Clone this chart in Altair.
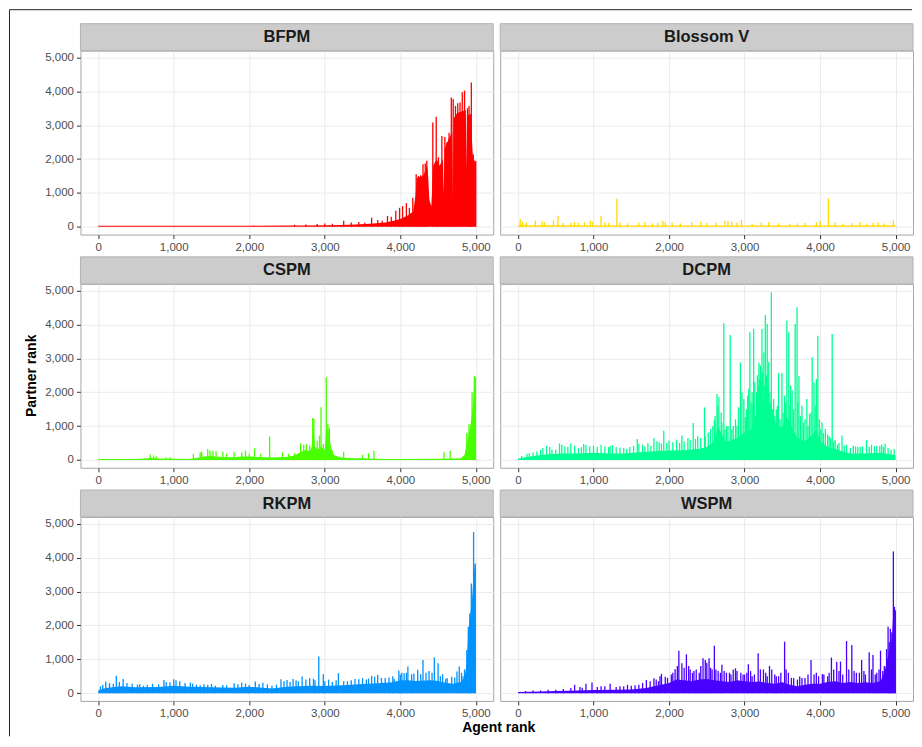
import altair as alt
import pandas as pd

# ---------------- data ----------------
panels = ["BFPM", "Blossom V", "CSPM", "DCPM", "RKPM", "WSPM"]
colors = ["#FF0000", "#FFDB00", "#49FF00", "#00FF92", "#0092FF", "#4900FF"]
tick_values = [0, 1000, 2000, 3000, 4000, 5000]

# BFPM
bfpm_body_x = [0, 500, 1000, 1500, 2000, 2500, 2700, 3000, 3200, 3400, 3600, 3800, 3900, 4000, 4100, 4170, 4200, 4220, 4300, 4360,
               4385, 4410, 4435, 4480, 4520, 4565, 4575, 4585, 4640, 4688, 4697, 4706, 4750, 4800, 4868, 4875, 4882, 4930, 4960, 4990, 5000]
bfpm_body_y = [30, 30, 30, 32, 34, 36, 40, 45, 55, 70, 90, 130, 170, 230, 330, 450, 900, 1450, 1500, 1800,
               800, 600, 1800, 2000, 1800, 2000, 950, 2300, 2600, 2800, 860, 3200, 3350, 3400, 3450, 1650, 3300, 3300, 2100, 1900, 1900]
bfpm_spike_x = [2600, 2750, 2900, 3000, 3100, 3250, 3350, 3450, 3530, 3620, 3700, 3760, 3830, 3880, 3940, 3990, 4030, 4080, 4120, 4165,
                4210, 4240, 4270, 4300, 4330, 4350, 4430, 4475, 4505, 4550, 4590, 4615, 4645, 4675, 4700, 4730, 4760, 4790, 4820, 4850,
                4890, 4910, 4925, 4940, 4965, 4998]
bfpm_spike_y = [60, 70, 80, 100, 90, 180, 130, 140, 120, 270, 200, 180, 320, 300, 470, 560, 610, 700, 560, 860,
                1550, 1500, 1520, 1850, 1870, 1950, 3080, 3250, 2050, 2680, 2650, 2490, 2780, 3820, 3770, 3570, 3650, 3670, 3970, 4020,
                3500, 3570, 3330, 4260, 2140, 1940]

# Blossom V
blossom_body_x = [0, 30, 100, 500, 1000, 1500, 2000, 2500, 3000, 3500, 4000, 4500, 5000]
blossom_body_y = [30, 60, 45, 45, 40, 40, 40, 40, 40, 35, 40, 40, 45]
blossom_spike_x = [30, 60, 110, 230, 320, 350, 470, 530, 600, 700, 750, 800, 880, 960, 990, 1100, 1150, 1200, 1310, 1350,
                   1450, 1600, 1680, 1780, 1850, 1920, 1950, 2040, 2150, 2300, 2420, 2500, 2620, 2740, 2780, 2830, 2900, 2960, 3100, 3220,
                   3320, 3450, 3600, 3700, 3800, 3950, 4000, 4110, 4200, 4300, 4420, 4530, 4620, 4700, 4770, 4850, 4970]
blossom_spike_y = [225, 150, 120, 180, 160, 130, 180, 325, 110, 110, 140, 120, 130, 180, 150, 325, 130, 110, 835, 130,
                   100, 120, 140, 100, 120, 180, 130, 130, 100, 140, 150, 110, 120, 180, 160, 150, 120, 200, 90, 130,
                   140, 100, 90, 100, 110, 130, 180, 845, 130, 100, 110, 140, 100, 110, 130, 100, 195]

# CSPM
cspm_body_x = [0, 500, 600, 700, 800, 1000, 1200, 1300, 1400, 1500, 1600, 1700, 1800, 1900, 2000, 2100, 2200, 2300, 2400, 2500,
               2600, 2650, 2700, 2750, 2800, 2830, 2850, 2870, 2900, 2950, 3000, 3020, 3050, 3080, 3120, 3200, 3300, 3400, 3500, 3600,
               3700, 3800, 4000, 4500, 4700, 4800, 4850, 4880, 4910, 4940, 4960, 4980, 5000]
cspm_body_y = [30, 30, 45, 60, 45, 35, 30, 60, 100, 120, 90, 80, 80, 100, 100, 90, 80, 70, 80, 90,
               130, 200, 250, 300, 250, 400, 1000, 400, 300, 400, 300, 900, 900, 400, 150, 80, 60, 50, 50, 40,
               32, 30, 30, 32, 40, 50, 150, 500, 800, 1200, 1600, 2300, 2300]
cspm_spike_x = [690, 735, 770, 900, 955, 1260, 1350, 1370, 1450, 1480, 1520, 1560, 1650, 1700, 1800, 1900, 1950, 2000, 2070, 2150,
                2270, 2440, 2520, 2600, 2680, 2720, 2760, 2800, 2840, 2855, 2900, 2930, 2950, 2980, 3020, 3040, 3060, 3100, 3250, 3500,
                3580, 3650, 4580, 4660, 4880, 4910, 4950, 4980, 4995]
cspm_spike_y = [160, 130, 100, 70, 80, 180, 225, 245, 325, 275, 275, 255, 245, 180, 225, 225, 275, 180, 345, 180,
                690, 225, 180, 200, 490, 450, 470, 425, 1240, 1210, 570, 720, 1555, 470, 2440, 1060, 960, 275, 245, 150,
                200, 275, 225, 275, 800, 1060, 2000, 2490, 2440]

# DCPM
dcpm_body_x = [0, 100, 200, 400, 600, 800, 1000, 1200, 1400, 1600, 1800, 2000, 2200, 2400, 2500, 2600, 2650, 2700, 2750, 2800,
               2900, 3000, 3100, 3150, 3200, 3250, 3300, 3350, 3400, 3500, 3550, 3600, 3650, 3700, 3800, 3900, 3950, 4000, 4100, 4200,
               4300, 4400, 4600, 4800, 5000]
dcpm_body_y = [40, 80, 120, 170, 190, 190, 210, 190, 190, 230, 260, 280, 290, 330, 380, 550, 1000, 750, 550, 550,
               650, 800, 900, 1300, 1600, 1800, 1700, 1500, 1100, 950, 1300, 1100, 850, 650, 550, 750, 900, 550, 380, 330,
               240, 190, 190, 210, 140]
dcpm_spike_x = [150, 250, 380, 450, 550, 620, 700, 800, 870, 950, 1000, 1100, 1150, 1220, 1300, 1400, 1480, 1580, 1650, 1720,
                1800, 1870, 1930, 2000, 2100, 2170, 2250, 2320, 2380, 2470, 2550, 2600, 2635, 2660, 2690, 2725, 2760, 2810, 2850, 2880,
                2920, 2945, 2965, 3010, 3040, 3070, 3100, 3120, 3145, 3170, 3190, 3210, 3230, 3255, 3275, 3300, 3320, 3355, 3385, 3420,
                3450, 3495, 3530, 3560, 3585, 3610, 3630, 3670, 3695, 3720, 3760, 3800, 3825, 3860, 3895, 3920, 3950, 3970, 4025, 4070,
                4120, 4160, 4200, 4250, 4290, 4350, 4440, 4500, 4560, 4615, 4680, 4750, 4815, 4860, 4900, 4980]
dcpm_spike_y = [200, 250, 420, 300, 490, 400, 490, 350, 470, 400, 420, 450, 400, 410, 380, 350, 380, 620, 450, 500,
                650, 520, 865, 575, 600, 720, 650, 1090, 700, 1555, 915, 1180, 1950, 1850, 1400, 4035, 1000, 3690, 1000, 1200,
                1555, 2880, 2000, 1260, 1900, 3770, 2000, 3870, 1300, 2500, 2880, 2790, 3870, 3180, 4280, 4015, 2900, 4950, 1800, 1500,
                2570, 2570, 1900, 4115, 3770, 2200, 2050, 4015, 4510, 2480, 1600, 1200, 1800, 1360, 3030, 2290, 2390, 3670, 1110, 915,
                700, 3720, 600, 500, 720, 450, 420, 380, 400, 590, 450, 420, 460, 480, 350, 325]
dcpm_minor_x = [50, 120, 200, 300, 330, 420, 500, 580, 660, 750, 840, 900, 1050, 1200, 1250, 1350, 1440, 1530, 1600, 1680,
                1760, 1840, 1900, 1970, 2050, 2140, 2200, 2280, 2350, 2420, 2480, 2520, 2580, 2610, 2645, 2700, 2740, 2780, 2830, 2900,
                2990, 3025, 3055, 3085, 3110, 3135, 3160, 3180, 3200, 3220, 3240, 3265, 3290, 3310, 3335, 3345, 3370, 3400, 3435, 3470,
                3510, 3545, 3600, 3650, 3705, 3740, 3780, 3840, 3880, 3935, 3990, 4010, 4045, 4100, 4140, 4180, 4230, 4320, 4400, 4470,
                4530, 4650, 4720, 4790, 4840, 4940]
dcpm_minor_y = [120, 180, 220, 300, 350, 380, 300, 450, 380, 420, 380, 440, 380, 380, 440, 360, 330, 420, 480, 400,
                420, 550, 480, 500, 520, 500, 550, 600, 620, 650, 700, 800, 1000, 1300, 1600, 1100, 900, 1000, 900, 1000,
                1800, 1500, 2100, 1700, 1600, 2300, 2000, 2200, 2400, 2300, 2600, 2200, 2500, 2200, 2000, 1700, 1500, 1300, 1600, 1200,
                1400, 1700, 1600, 1500, 1700, 1300, 1100, 1000, 1400, 1600, 1200, 900, 800, 750, 650, 550, 450, 420, 350, 400,
                380, 380, 400, 420, 380, 300]

# RKPM
rkpm_body_x = [0, 100, 300, 500, 800, 1000, 1200, 1500, 1800, 2000, 2300, 2500, 2800, 3000, 3300, 3500, 3700, 3900, 4000, 4100,
               4200, 4400, 4500, 4600, 4700, 4800, 4850, 4880, 4900, 4920, 4950, 4970, 4990, 5000]
rkpm_body_y = [80, 150, 200, 170, 180, 220, 190, 170, 160, 190, 140, 190, 220, 210, 240, 270, 290, 320, 380, 380,
               360, 380, 360, 310, 280, 330, 450, 900, 1800, 2200, 2800, 3500, 3800, 3800]
rkpm_spike_x = [30, 100, 150, 240, 280, 330, 450, 520, 600, 720, 800, 870, 950, 1000, 1030, 1150, 1220, 1300, 1400, 1500,
                1650, 1800, 1900, 2000, 2080, 2180, 2300, 2420, 2500, 2580, 2650, 2700, 2800, 2870, 2920, 2980, 3050, 3100, 3180, 3250,
                3350, 3450, 3550, 3620, 3700, 3800, 3850, 3920, 3980, 4020, 4050, 4100, 4150, 4230, 4300, 4340, 4380, 4450, 4500, 4560,
                4620, 4680, 4750, 4780, 4830, 4880, 4900, 4920, 4940, 4970, 4990]
rkpm_spike_y = [200, 340, 300, 510, 330, 420, 280, 250, 220, 275, 260, 390, 320, 410, 380, 300, 310, 250, 260, 275,
                240, 295, 310, 240, 345, 310, 220, 410, 390, 420, 350, 490, 440, 380, 1080, 560, 400, 330, 590, 350,
                380, 410, 400, 510, 540, 450, 460, 420, 670, 600, 590, 785, 560, 690, 980, 600, 650, 1050, 880, 560,
                450, 480, 640, 785, 500, 1275, 1960, 2350, 3235, 4755, 3825]
rkpm_minor_x = [60, 200, 380, 550, 650, 900, 1080, 1250, 1350, 1450, 1550, 1700, 1850, 1950, 2130, 2240, 2360, 2460, 2540, 2620,
                2750, 2850, 3000, 3150, 3300, 3400, 3500, 3580, 3660, 3750, 3900, 4000, 4080, 4180, 4270, 4420, 4530, 4600, 4720, 4810,
                4850]
rkpm_minor_y = [250, 280, 300, 260, 240, 330, 350, 280, 230, 250, 220, 230, 260, 280, 270, 260, 250, 350, 330, 380,
                400, 420, 350, 380, 350, 420, 450, 430, 480, 450, 500, 550, 600, 580, 560, 600, 500, 420, 460, 600,
                700]

# WSPM
wspm_body_x = [0, 300, 500, 800, 1000, 1300, 1500, 1700, 1800, 1900, 2000, 2100, 2200, 2300, 2400, 2500, 2600, 2700, 2800, 2900,
               3000, 3100, 3200, 3300, 3400, 3500, 3600, 3700, 3800, 3900, 4000, 4100, 4200, 4300, 4400, 4500, 4600, 4700, 4800, 4850,
               4900, 4950, 4970, 5000]
wspm_body_y = [30, 45, 60, 80, 90, 100, 110, 150, 200, 250, 300, 400, 380, 350, 400, 420, 380, 350, 330, 380,
               350, 330, 340, 300, 280, 320, 250, 200, 250, 280, 280, 330, 350, 300, 330, 300, 320, 300, 350, 600,
               1100, 1600, 2400, 2400]
wspm_spike_x = [200, 400, 600, 750, 820, 900, 980, 1100, 1220, 1350, 1450, 1550, 1650, 1700, 1800, 1860, 1900, 1950, 2030, 2080,
                2130, 2170, 2230, 2280, 2330, 2400, 2450, 2480, 2530, 2570, 2600, 2650, 2700, 2760, 2820, 2880, 2950, 3000, 3050, 3100,
                3180, 3250, 3300, 3330, 3400, 3450, 3530, 3580, 3620, 3730, 3800, 3880, 3920, 3980, 4030, 4100, 4150, 4220, 4270, 4350,
                4420, 4480, 4550, 4600, 4650, 4700, 4750, 4800, 4850, 4900, 4930, 4970, 4985, 4995]
wspm_spike_y = [80, 100, 120, 245, 180, 275, 315, 200, 275, 200, 245, 230, 300, 390, 440, 350, 570, 480, 550, 705,
                1255, 880, 1145, 700, 650, 600, 1030, 980, 1030, 700, 1400, 650, 835, 600, 550, 735, 600, 550, 850, 500,
                1175, 700, 500, 805, 550, 500, 1520, 600, 450, 490, 450, 980, 550, 500, 560, 500, 1050, 930, 930, 1540,
                1420, 600, 980, 550, 1205, 1125, 600, 1255, 800, 1960, 1900, 4185, 2550, 2450]
wspm_minor_x = [100, 300, 500, 700, 850, 1050, 1150, 1300, 1400, 1500, 1600, 1750, 1830, 1880, 1980, 2050, 2110, 2200, 2260, 2310,
                2360, 2420, 2500, 2550, 2620, 2680, 2730, 2800, 2850, 2900, 2980, 3030, 3080, 3130, 3210, 3280, 3360, 3420, 3480, 3550,
                3650, 3700, 3760, 3840, 3950, 4050, 4120, 4180, 4250, 4300, 4380, 4450, 4520, 4580, 4680, 4730, 4780, 4830, 4880, 4915,
                4950]
wspm_minor_y = [60, 80, 100, 150, 160, 180, 200, 180, 200, 220, 250, 350, 400, 500, 450, 600, 800, 750, 800, 600,
                700, 800, 900, 750, 700, 600, 650, 600, 700, 650, 550, 600, 650, 550, 700, 600, 700, 500, 600, 700,
                450, 400, 450, 550, 600, 550, 600, 700, 650, 550, 700, 650, 600, 650, 700, 550, 700, 650, 1300, 1500,
                1800]

body_x = [bfpm_body_x, blossom_body_x, cspm_body_x, dcpm_body_x, rkpm_body_x, wspm_body_x]
body_y = [bfpm_body_y, blossom_body_y, cspm_body_y, dcpm_body_y, rkpm_body_y, wspm_body_y]
spike_x = [bfpm_spike_x, blossom_spike_x, cspm_spike_x, dcpm_spike_x + dcpm_minor_x, rkpm_spike_x + rkpm_minor_x,
           wspm_spike_x + wspm_minor_x]
spike_y = [bfpm_spike_y, blossom_spike_y, cspm_spike_y, dcpm_spike_y + dcpm_minor_y, rkpm_spike_y + rkpm_minor_y,
           wspm_spike_y + wspm_minor_y]
for a, b in zip(body_x + spike_x, body_y + spike_y):
    assert len(a) == len(b), (len(a), len(b))

# ---------------- layout ----------------
W, H = 413, 184
X_DOMAIN = [-235, 5230]
Y_DOMAIN = [-230, 5200]
STRIP_H = 27


def make_panel(i, left, extra=()):
    col = colors[i]
    body = pd.DataFrame({"x": body_x[i], "y": body_y[i]})
    spikes = pd.DataFrame({"x": spike_x[i], "y": spike_y[i]})
    xs = alt.Scale(domain=X_DOMAIN, nice=False, zero=False)
    ys = alt.Scale(domain=Y_DOMAIN, nice=False, zero=False)
    xaxis = alt.Axis(values=tick_values, format=",d", title=None, domain=False, grid=True,
                     labelFlush=False, labelOverlap=False, tickCount=6)
    yaxis = alt.Axis(values=tick_values, format=",d", title=None, domain=False, grid=True,
                     labels=left, ticks=left, labelFlush=False, labelOverlap=False, tickCount=6)
    area = alt.Chart(body).mark_area(color=col, opacity=1).encode(
        x=alt.X("x:Q", scale=xs, axis=xaxis),
        y=alt.Y("y:Q", scale=ys, axis=yaxis),
        y2=alt.datum(0),
    )
    rules = alt.Chart(spikes).mark_rule(color=col, strokeWidth=1.3).encode(
        x=alt.X("x:Q", scale=xs, axis=xaxis),
        y=alt.Y("y:Q", scale=ys, axis=yaxis),
        y2=alt.datum(0),
    )
    strip_df = pd.DataFrame({"name": [panels[i]]})
    strip = alt.Chart(strip_df).mark_rect(fill="#CCCCCC", stroke="#B3B3B3", strokeWidth=1).encode(
        x=alt.value(0), x2=alt.value(W), y=alt.value(-STRIP_H), y2=alt.value(0)
    )
    strip_text = alt.Chart(strip_df).mark_text(
        fontSize=16.5, fontWeight="bold", color="#1A1A1A", baseline="middle", align="center"
    ).encode(x=alt.value(W / 2), y=alt.value(-STRIP_H / 2), text="name:N")
    return alt.layer(area, rules, strip, strip_text, *extra).properties(width=W, height=H)


one = pd.DataFrame({"k": [0]})
frame_left = alt.Chart(one).mark_rule(color="#222222", strokeWidth=1).encode(
    x=alt.value(-71), y=alt.value(-41), y2=alt.value(686))
frame_top = alt.Chart(one).mark_rule(color="#222222", strokeWidth=1).encode(
    x=alt.value(-71), x2=alt.value(832), y=alt.value(-41))

ytitle = alt.Chart(pd.DataFrame({"t": ["Partner rank"]})).mark_text(
    fontSize=14, fontWeight="bold", color="#000000", angle=270, baseline="middle", align="center"
).encode(x=alt.value(-48), y=alt.value(H / 2), text="t:N")

xtitle = alt.Chart(pd.DataFrame({"t": ["Agent rank"]})).mark_text(
    fontSize=14, fontWeight="bold", color="#000000", baseline="middle", align="center"
).encode(x=alt.value(418.5), y=alt.value(H + 27), text="t:N")

p0 = make_panel(0, True, (frame_left, frame_top))
p1 = make_panel(1, False)
p2 = make_panel(2, True, (ytitle,))
p3 = make_panel(3, False)
p4 = make_panel(4, True, (xtitle,))
p5 = make_panel(5, False)

chart = alt.concat(
    p0, p1, p2, p3, p4, p5, columns=2,
    spacing={"row": 49.3, "column": 7}, bounds="flush",
).properties(
    padding={"left": 0.5, "top": 0.5, "right": 0, "bottom": 0},
    background="#FFFFFF",
).configure(
    font="Liberation Sans",
).configure_view(
    stroke="#A6A6A6", strokeWidth=1,
).configure_axis(
    labelFontSize=11.5, labelColor="#4D4D4D", labelFont="Liberation Sans",
    tickColor="#333333", tickSize=4, tickWidth=1, labelPadding=3,
    gridColor="#EBEBEB", gridWidth=1, labelOverlap=False,
).configure_axisY(
    labelOverlap=False,
)

chart.save("out.html", embed_options={"renderer": "svg", "actions": False})
